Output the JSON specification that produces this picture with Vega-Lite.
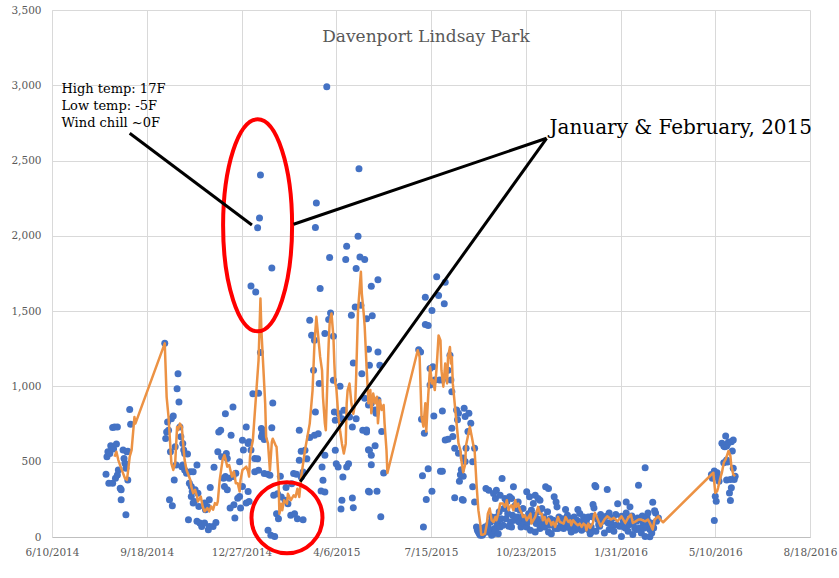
{
"$schema": "https://vega.github.io/schema/vega-lite/v6.json",
"width": 758, "height": 527,
"autosize": {"type": "none"},
"padding": {"left": 52, "top": 10, "right": 29, "bottom": 41},
"background": "#ffffff",
"config": {"view": {"stroke": null}},
"title": {"text": "Davenport Lindsay Park", "font": "DejaVu Serif", "fontSize": 17, "fontWeight": "normal", "color": "#595959", "anchor": "middle", "baseline": "alphabetic", "offset": -54, "dx": -5},
"datasets": {
"points": [
{"date":"2014-08-06","value":416},{"date":"2014-08-07","value":533},{"date":"2014-08-08","value":566},{"date":"2014-08-09","value":357},{"date":"2014-08-10","value":555},{"date":"2014-08-11","value":606},{"date":"2014-08-12","value":592},{"date":"2014-08-13","value":727},{"date":"2014-08-13","value":357},{"date":"2014-08-14","value":584},{"date":"2014-08-15","value":731},{"date":"2014-08-16","value":390},{"date":"2014-08-17","value":617},{"date":"2014-08-18","value":731},{"date":"2014-08-18","value":412},{"date":"2014-08-19","value":445},{"date":"2014-08-21","value":324},{"date":"2014-08-22","value":313},{"date":"2014-08-22","value":247},{"date":"2014-08-24","value":577},{"date":"2014-08-25","value":522},{"date":"2014-08-26","value":489},{"date":"2014-08-27","value":148},{"date":"2014-08-27","value":456},{"date":"2014-08-28","value":566},{"date":"2014-08-29","value":570},{"date":"2014-08-29","value":379},{"date":"2014-08-31","value":846},{"date":"2014-09-01","value":749},
{"date":"2014-10-07","value":1286},{"date":"2014-10-08","value":654},{"date":"2014-10-09","value":698},{"date":"2014-10-10","value":764},{"date":"2014-10-11","value":709},{"date":"2014-10-12","value":247},{"date":"2014-10-13","value":566},{"date":"2014-10-14","value":786},{"date":"2014-10-15","value":207},{"date":"2014-10-16","value":804},{"date":"2014-10-17","value":379},{"date":"2014-10-18","value":600},{"date":"2014-10-19","value":478},{"date":"2014-10-20","value":985},{"date":"2014-10-21","value":1084},{"date":"2014-10-22","value":896},{"date":"2014-10-23","value":731},{"date":"2014-10-24","value":665},{"date":"2014-10-25","value":467},{"date":"2014-10-26","value":621},{"date":"2014-10-26","value":478},{"date":"2014-10-27","value":577},{"date":"2014-10-28","value":555},{"date":"2014-10-28","value":445},{"date":"2014-10-30","value":423},{"date":"2014-10-31","value":551},{"date":"2014-11-01","value":115},{"date":"2014-11-02","value":357},{"date":"2014-11-03","value":434},{"date":"2014-11-04","value":335},{"date":"2014-11-04","value":269},{"date":"2014-11-05","value":302},{"date":"2014-11-06","value":434},{"date":"2014-11-06","value":225},{"date":"2014-11-07","value":236},{"date":"2014-11-08","value":313},{"date":"2014-11-10","value":478},{"date":"2014-11-10","value":104},{"date":"2014-11-11","value":291},{"date":"2014-11-12","value":203},{"date":"2014-11-13","value":93},{"date":"2014-11-15","value":70},{"date":"2014-11-18","value":93},{"date":"2014-11-18","value":225},{"date":"2014-11-19","value":181},{"date":"2014-11-21","value":203},{"date":"2014-11-22","value":48},{"date":"2014-11-23","value":70},{"date":"2014-11-23","value":247},{"date":"2014-11-24","value":328},{"date":"2014-11-27","value":70},{"date":"2014-11-28","value":463},{"date":"2014-11-30","value":97},
{"date":"2014-12-02","value":566},{"date":"2014-12-03","value":698},{"date":"2014-12-05","value":709},{"date":"2014-12-06","value":533},{"date":"2014-12-08","value":390},{"date":"2014-12-09","value":335},{"date":"2014-12-10","value":819},{"date":"2014-12-10","value":401},{"date":"2014-12-11","value":555},{"date":"2014-12-12","value":522},{"date":"2014-12-12","value":313},{"date":"2014-12-14","value":390},{"date":"2014-12-15","value":192},{"date":"2014-12-16","value":676},{"date":"2014-12-18","value":863},{"date":"2014-12-18","value":401},{"date":"2014-12-19","value":214},{"date":"2014-12-20","value":126},{"date":"2014-12-21","value":423},{"date":"2014-12-23","value":258},{"date":"2014-12-25","value":500},{"date":"2014-12-25","value":269},{"date":"2014-12-26","value":192},{"date":"2014-12-28","value":335},{"date":"2014-12-28","value":643},{"date":"2014-12-29","value":577},
{"date":"2015-01-01","value":225},{"date":"2015-01-01","value":731},{"date":"2015-01-03","value":302},{"date":"2015-01-03","value":621},{"date":"2015-01-04","value":236},{"date":"2015-01-04","value":632},{"date":"2015-01-06","value":577},{"date":"2015-01-06","value":1667},{"date":"2015-01-08","value":951},{"date":"2015-01-10","value":522},{"date":"2015-01-10","value":434},{"date":"2015-01-11","value":1627},{"date":"2015-01-13","value":2054},{"date":"2015-01-13","value":520},{"date":"2015-01-14","value":955},{"date":"2015-01-14","value":443},{"date":"2015-01-15","value":2118},{"date":"2015-01-16","value":2404},{"date":"2015-01-16","value":1226},{"date":"2015-01-17","value":665},{"date":"2015-01-17","value":720},{"date":"2015-01-18","value":686},{"date":"2015-01-19","value":709},{"date":"2015-01-20","value":647},{"date":"2015-01-20","value":421},{"date":"2015-01-24","value":416},{"date":"2015-01-24","value":44},{"date":"2015-01-26","value":410},{"date":"2015-01-27","value":11},{"date":"2015-01-28","value":1786},{"date":"2015-01-28","value":726},{"date":"2015-01-29","value":890},{"date":"2015-01-30","value":277},{"date":"2015-01-31","value":4},
{"date":"2015-02-02","value":155},{"date":"2015-02-03","value":288},{"date":"2015-02-04","value":122},{"date":"2015-02-06","value":403},{"date":"2015-02-07","value":266},{"date":"2015-02-11","value":244},{"date":"2015-02-12","value":328},{"date":"2015-02-14","value":221},{"date":"2015-02-17","value":144},{"date":"2015-02-18","value":354},{"date":"2015-02-20","value":421},{"date":"2015-02-21","value":155},{"date":"2015-02-23","value":416},{"date":"2015-02-24","value":122},{"date":"2015-02-26","value":709},{"date":"2015-02-26","value":509},{"date":"2015-02-28","value":569},{"date":"2015-02-28","value":399},
{"date":"2015-03-02","value":432},{"date":"2015-03-02","value":115},{"date":"2015-03-04","value":576},{"date":"2015-03-06","value":520},{"date":"2015-03-09","value":660},{"date":"2015-03-09","value":1440},{"date":"2015-03-11","value":1340},{"date":"2015-03-13","value":1107},{"date":"2015-03-14","value":1306},{"date":"2015-03-14","value":675},{"date":"2015-03-15","value":2055},{"date":"2015-03-15","value":830},{"date":"2015-03-16","value":2219},{"date":"2015-03-18","value":686},{"date":"2015-03-19","value":1019},{"date":"2015-03-20","value":1650},{"date":"2015-03-21","value":306},{"date":"2015-03-22","value":465},{"date":"2015-03-23","value":377},{"date":"2015-03-25","value":1351},{"date":"2015-03-25","value":543},{"date":"2015-03-25","value":299},{"date":"2015-03-27","value":2990},{"date":"2015-03-29","value":1444},{"date":"2015-03-30","value":1856},{"date":"2015-03-31","value":1488},
{"date":"2015-04-03","value":1333},{"date":"2015-04-03","value":1041},{"date":"2015-04-04","value":830},{"date":"2015-04-05","value":775},{"date":"2015-04-05","value":576},{"date":"2015-04-06","value":487},{"date":"2015-04-08","value":465},{"date":"2015-04-09","value":819},{"date":"2015-04-10","value":1001},{"date":"2015-04-11","value":186},{"date":"2015-04-12","value":786},{"date":"2015-04-12","value":244},{"date":"2015-04-13","value":399},{"date":"2015-04-14","value":842},{"date":"2015-04-16","value":1843},{"date":"2015-04-17","value":1931},{"date":"2015-04-17","value":465},{"date":"2015-04-19","value":487},{"date":"2015-04-20","value":797},{"date":"2015-04-22","value":1473},{"date":"2015-04-23","value":731},{"date":"2015-04-23","value":259},{"date":"2015-04-24","value":1156},{"date":"2015-04-24","value":195},{"date":"2015-04-26","value":1528},{"date":"2015-04-27","value":1783},{"date":"2015-04-27","value":786},{"date":"2015-04-29","value":1998},{"date":"2015-04-30","value":2445},
{"date":"2015-05-01","value":1860},{"date":"2015-05-02","value":1539},{"date":"2015-05-03","value":1085},{"date":"2015-05-04","value":709},{"date":"2015-05-06","value":1843},{"date":"2015-05-06","value":921},{"date":"2015-05-08","value":1449},{"date":"2015-05-08","value":698},{"date":"2015-05-08","value":711},{"date":"2015-05-10","value":1247},{"date":"2015-05-10","value":877},{"date":"2015-05-10","value":579},{"date":"2015-05-10","value":304},{"date":"2015-05-11","value":299},{"date":"2015-05-11","value":1141},{"date":"2015-05-11","value":576},{"date":"2015-05-13","value":1665},{"date":"2015-05-13","value":543},{"date":"2015-05-13","value":888},{"date":"2015-05-13","value":480},{"date":"2015-05-14","value":1470},{"date":"2015-05-17","value":844},{"date":"2015-05-17","value":606},{"date":"2015-05-18","value":822},{"date":"2015-05-19","value":304},{"date":"2015-05-20","value":1709},{"date":"2015-05-20","value":1229},{"date":"2015-05-20","value":910},{"date":"2015-05-22","value":1141},{"date":"2015-05-23","value":134},{"date":"2015-05-24","value":700},{"date":"2015-05-26","value":425},
{"date":"2015-07-02","value":1244},{"date":"2015-07-04","value":1229},{"date":"2015-07-05","value":782},{"date":"2015-07-06","value":407},{"date":"2015-07-07","value":66},{"date":"2015-07-08","value":689},{"date":"2015-07-09","value":1593},{"date":"2015-07-09","value":1412},{"date":"2015-07-10","value":249},{"date":"2015-07-12","value":1405},{"date":"2015-07-12","value":454},{"date":"2015-07-14","value":1119},{"date":"2015-07-14","value":1009},{"date":"2015-07-16","value":1504},{"date":"2015-07-16","value":304},{"date":"2015-07-17","value":1130},{"date":"2015-07-18","value":804},{"date":"2015-07-19","value":1042},{"date":"2015-07-21","value":1729},{"date":"2015-07-23","value":1604},{"date":"2015-07-24","value":1042},{"date":"2015-07-25","value":436},{"date":"2015-07-27","value":1042},{"date":"2015-07-27","value":837},{"date":"2015-07-27","value":436},{"date":"2015-07-29","value":1549},{"date":"2015-07-30","value":1692},{"date":"2015-07-30","value":645},
{"date":"2015-08-02","value":1108},{"date":"2015-08-02","value":650},{"date":"2015-08-04","value":1207},{"date":"2015-08-05","value":1042},{"date":"2015-08-06","value":965},{"date":"2015-08-06","value":722},{"date":"2015-08-07","value":667},{"date":"2015-08-09","value":590},{"date":"2015-08-09","value":260},{"date":"2015-08-11","value":844},{"date":"2015-08-12","value":778},{"date":"2015-08-13","value":822},{"date":"2015-08-13","value":557},{"date":"2015-08-14","value":370},{"date":"2015-08-15","value":414},{"date":"2015-08-16","value":447},{"date":"2015-08-17","value":249},{"date":"2015-08-18","value":524},{"date":"2015-08-18","value":403},{"date":"2015-08-18","value":244},{"date":"2015-08-19","value":855},{"date":"2015-08-20","value":800},{"date":"2015-08-20","value":502},{"date":"2015-08-21","value":590},{"date":"2015-08-23","value":700},{"date":"2015-08-24","value":822},{"date":"2015-08-26","value":755},{"date":"2015-08-28","value":500},{"date":"2015-08-28","value":333},{"date":"2015-08-30","value":589},{"date":"2015-08-30","value":233},
{"date":"2015-09-01","value":67},{"date":"2015-09-02","value":44},{"date":"2015-09-03","value":33},{"date":"2015-09-04","value":22},{"date":"2015-09-05","value":11},{"date":"2015-09-06","value":56},{"date":"2015-09-07","value":11},{"date":"2015-09-08","value":22},{"date":"2015-09-09","value":33},{"date":"2015-09-10","value":67},{"date":"2015-09-11","value":322},{"date":"2015-09-12","value":33},{"date":"2015-09-13","value":78},{"date":"2015-09-14","value":311},{"date":"2015-09-15","value":49},{"date":"2015-09-16","value":100},{"date":"2015-09-17","value":11},{"date":"2015-09-17","value":133},{"date":"2015-09-18","value":122},{"date":"2015-09-19","value":22},{"date":"2015-09-19","value":289},{"date":"2015-09-20","value":56},{"date":"2015-09-21","value":44},{"date":"2015-09-21","value":255},{"date":"2015-09-22","value":311},{"date":"2015-09-22","value":133},{"date":"2015-09-23","value":89},{"date":"2015-09-24","value":22},{"date":"2015-09-24","value":111},{"date":"2015-09-25","value":167},{"date":"2015-09-26","value":278},{"date":"2015-09-26","value":67},{"date":"2015-09-27","value":122},{"date":"2015-09-28","value":389},{"date":"2015-09-29","value":78},{"date":"2015-09-30","value":189},
{"date":"2015-10-01","value":255},{"date":"2015-10-02","value":122},{"date":"2015-10-03","value":233},{"date":"2015-10-04","value":156},{"date":"2015-10-05","value":71},{"date":"2015-10-06","value":267},{"date":"2015-10-07","value":100},{"date":"2015-10-08","value":255},{"date":"2015-10-08","value":67},{"date":"2015-10-09","value":144},{"date":"2015-10-10","value":333},{"date":"2015-10-11","value":111},{"date":"2015-10-12","value":211},{"date":"2015-10-13","value":189},{"date":"2015-10-14","value":133},{"date":"2015-10-15","value":233},{"date":"2015-10-16","value":100},{"date":"2015-10-17","value":178},{"date":"2015-10-18","value":67},{"date":"2015-10-19","value":133},{"date":"2015-10-20","value":189},{"date":"2015-10-21","value":89},{"date":"2015-10-22","value":122},{"date":"2015-10-24","value":300},{"date":"2015-10-24","value":67},{"date":"2015-10-25","value":100},{"date":"2015-10-26","value":155},{"date":"2015-10-27","value":267},{"date":"2015-10-28","value":44},{"date":"2015-10-29","value":178},{"date":"2015-10-30","value":111},{"date":"2015-10-31","value":222},
{"date":"2015-11-01","value":144},{"date":"2015-11-02","value":278},{"date":"2015-11-02","value":33},{"date":"2015-11-03","value":89},{"date":"2015-11-04","value":122},{"date":"2015-11-05","value":255},{"date":"2015-11-06","value":167},{"date":"2015-11-07","value":244},{"date":"2015-11-07","value":56},{"date":"2015-11-08","value":100},{"date":"2015-11-09","value":189},{"date":"2015-11-10","value":78},{"date":"2015-11-11","value":133},{"date":"2015-11-12","value":67},{"date":"2015-11-13","value":334},{"date":"2015-11-14","value":100},{"date":"2015-11-15","value":167},{"date":"2015-11-16","value":322},{"date":"2015-11-16","value":33},{"date":"2015-11-17","value":78},{"date":"2015-11-18","value":122},{"date":"2015-11-19","value":22},{"date":"2015-11-20","value":89},{"date":"2015-11-21","value":111},{"date":"2015-11-22","value":267},{"date":"2015-11-23","value":56},{"date":"2015-11-24","value":233},{"date":"2015-11-25","value":200},{"date":"2015-11-26","value":56},{"date":"2015-11-27","value":133},{"date":"2015-11-28","value":111},{"date":"2015-11-29","value":78},{"date":"2015-11-30","value":100},
{"date":"2015-12-01","value":122},{"date":"2015-12-02","value":56},{"date":"2015-12-03","value":100},{"date":"2015-12-04","value":182},{"date":"2015-12-05","value":78},{"date":"2015-12-06","value":144},{"date":"2015-12-07","value":67},{"date":"2015-12-08","value":111},{"date":"2015-12-09","value":56},{"date":"2015-12-10","value":33},{"date":"2015-12-11","value":122},{"date":"2015-12-12","value":78},{"date":"2015-12-13","value":133},{"date":"2015-12-14","value":44},{"date":"2015-12-14","value":89},{"date":"2015-12-15","value":67},{"date":"2015-12-16","value":111},{"date":"2015-12-17","value":182},{"date":"2015-12-18","value":56},{"date":"2015-12-19","value":156},{"date":"2015-12-20","value":100},{"date":"2015-12-21","value":44},{"date":"2015-12-22","value":78},{"date":"2015-12-23","value":133},{"date":"2015-12-24","value":56},{"date":"2015-12-25","value":89},{"date":"2015-12-26","value":111},{"date":"2015-12-27","value":78},{"date":"2015-12-28","value":133},{"date":"2015-12-29","value":44},{"date":"2015-12-30","value":22},{"date":"2015-12-31","value":33},{"date":"2015-12-31","value":67},
{"date":"2016-01-01","value":138},{"date":"2016-01-02","value":216},{"date":"2016-01-02","value":133},{"date":"2016-01-03","value":193},{"date":"2016-01-04","value":342},{"date":"2016-01-05","value":333},{"date":"2016-01-05","value":38},{"date":"2016-01-07","value":116},{"date":"2016-01-08","value":82},{"date":"2016-01-09","value":71},{"date":"2016-01-10","value":149},{"date":"2016-01-12","value":104},{"date":"2016-01-13","value":127},{"date":"2016-01-14","value":27},{"date":"2016-01-16","value":138},{"date":"2016-01-17","value":316},{"date":"2016-01-18","value":93},{"date":"2016-01-19","value":160},{"date":"2016-01-19","value":49},{"date":"2016-01-21","value":93},{"date":"2016-01-22","value":60},{"date":"2016-01-23","value":127},{"date":"2016-01-24","value":38},{"date":"2016-01-26","value":149},{"date":"2016-01-27","value":82},{"date":"2016-01-28","value":220},{"date":"2016-01-30","value":71},
{"date":"2016-02-01","value":138},{"date":"2016-02-01","value":4},{"date":"2016-02-02","value":71},{"date":"2016-02-03","value":104},{"date":"2016-02-04","value":127},{"date":"2016-02-05","value":60},{"date":"2016-02-06","value":233},{"date":"2016-02-06","value":160},{"date":"2016-02-08","value":38},{"date":"2016-02-09","value":82},{"date":"2016-02-10","value":200},{"date":"2016-02-10","value":116},{"date":"2016-02-12","value":140},{"date":"2016-02-13","value":93},{"date":"2016-02-13","value":16},{"date":"2016-02-15","value":60},{"date":"2016-02-17","value":104},{"date":"2016-02-17","value":49},{"date":"2016-02-18","value":127},{"date":"2016-02-19","value":344},{"date":"2016-02-20","value":116},{"date":"2016-02-20","value":60},{"date":"2016-02-22","value":27},{"date":"2016-02-23","value":140},{"date":"2016-02-24","value":93},{"date":"2016-02-25","value":60},{"date":"2016-02-26","value":460},{"date":"2016-02-26","value":4},{"date":"2016-02-27","value":71},{"date":"2016-02-28","value":127},{"date":"2016-02-29","value":160},{"date":"2016-02-29","value":104},
{"date":"2016-03-02","value":49},{"date":"2016-03-02","value":2},{"date":"2016-03-03","value":93},{"date":"2016-03-04","value":27},{"date":"2016-03-05","value":231},{"date":"2016-03-05","value":71},{"date":"2016-03-06","value":60},{"date":"2016-03-07","value":175},{"date":"2016-03-08","value":160},{"date":"2016-03-09","value":104},{"date":"2016-03-11","value":127},
{"date":"2016-05-06","value":415},{"date":"2016-05-07","value":390},{"date":"2016-05-09","value":438},{"date":"2016-05-09","value":109},{"date":"2016-05-10","value":271},{"date":"2016-05-11","value":238},{"date":"2016-05-12","value":427},{"date":"2016-05-13","value":393},{"date":"2016-05-14","value":371},{"date":"2016-05-17","value":622},{"date":"2016-05-19","value":604},{"date":"2016-05-19","value":493},{"date":"2016-05-20","value":600},{"date":"2016-05-21","value":671},{"date":"2016-05-22","value":604},{"date":"2016-05-22","value":511},{"date":"2016-05-22","value":378},{"date":"2016-05-23","value":618},{"date":"2016-05-23","value":498},{"date":"2016-05-24","value":631},{"date":"2016-05-25","value":293},{"date":"2016-05-26","value":382},{"date":"2016-05-26","value":242},{"date":"2016-05-27","value":633},{"date":"2016-05-27","value":327},{"date":"2016-05-28","value":571},{"date":"2016-05-29","value":644},{"date":"2016-05-29","value":456},{"date":"2016-05-30","value":382},{"date":"2016-05-31","value":404}
],
"average": [
{"date":"2014-08-15","value":533},{"date":"2014-08-17","value":566},{"date":"2014-08-19","value":511},{"date":"2014-08-22","value":456},{"date":"2014-08-26","value":390},{"date":"2014-08-28","value":379},{"date":"2014-08-29","value":423},{"date":"2014-08-31","value":533},{"date":"2014-09-02","value":577},{"date":"2014-09-05","value":797},{"date":"2014-09-06","value":753},{"date":"2014-10-07","value":1286},{"date":"2014-10-09","value":929},{"date":"2014-10-11","value":797},{"date":"2014-10-14","value":489},{"date":"2014-10-16","value":445},{"date":"2014-10-18","value":489},{"date":"2014-10-20","value":731},{"date":"2014-10-21","value":709},{"date":"2014-10-23","value":753},{"date":"2014-10-25","value":731},{"date":"2014-10-27","value":577},{"date":"2014-10-28","value":511},{"date":"2014-10-30","value":445},{"date":"2014-11-03","value":379},{"date":"2014-11-04","value":335},{"date":"2014-11-06","value":291},{"date":"2014-11-08","value":313},{"date":"2014-11-10","value":269},{"date":"2014-11-11","value":236},{"date":"2014-11-14","value":269},{"date":"2014-11-16","value":203},{"date":"2014-11-18","value":170},{"date":"2014-11-21","value":192},{"date":"2014-11-23","value":170},{"date":"2014-11-25","value":203},{"date":"2014-11-27","value":181},{"date":"2014-11-29","value":225},{"date":"2014-12-01","value":214},{"date":"2014-12-02","value":236},{"date":"2014-12-04","value":379},{"date":"2014-12-07","value":511},{"date":"2014-12-09","value":544},{"date":"2014-12-10","value":522},{"date":"2014-12-12","value":467},{"date":"2014-12-14","value":478},{"date":"2014-12-16","value":423},{"date":"2014-12-17","value":401},{"date":"2014-12-19","value":434},{"date":"2014-12-21","value":357},{"date":"2014-12-23","value":357},{"date":"2014-12-25","value":302},{"date":"2014-12-26","value":379},{"date":"2014-12-28","value":445},{"date":"2014-12-30","value":456},{"date":"2015-01-01","value":467},{"date":"2015-01-03","value":434},{"date":"2015-01-04","value":401},{"date":"2015-01-05","value":533},{"date":"2015-01-06","value":577},{"date":"2015-01-08","value":643},{"date":"2015-01-12","value":997},{"date":"2015-01-14","value":1174},{"date":"2015-01-16","value":1584},{"date":"2015-01-17","value":1373},{"date":"2015-01-19","value":1130},{"date":"2015-01-21","value":886},{"date":"2015-01-22","value":664},{"date":"2015-01-24","value":620},{"date":"2015-01-26","value":443},{"date":"2015-01-28","value":631},{"date":"2015-01-29","value":653},{"date":"2015-02-01","value":609},{"date":"2015-02-02","value":598},{"date":"2015-02-04","value":399},{"date":"2015-02-05","value":155},{"date":"2015-02-07","value":221},{"date":"2015-02-08","value":177},{"date":"2015-02-10","value":244},{"date":"2015-02-13","value":221},{"date":"2015-02-14","value":288},{"date":"2015-02-17","value":244},{"date":"2015-02-20","value":277},{"date":"2015-02-22","value":266},{"date":"2015-02-24","value":321},{"date":"2015-02-26","value":266},{"date":"2015-02-28","value":399},{"date":"2015-03-04","value":576},{"date":"2015-03-09","value":753},{"date":"2015-03-12","value":974},{"date":"2015-03-14","value":1285},{"date":"2015-03-16","value":1462},{"date":"2015-03-18","value":1329},{"date":"2015-03-20","value":1196},{"date":"2015-03-22","value":1107},{"date":"2015-03-23","value":930},{"date":"2015-03-25","value":753},{"date":"2015-03-26","value":709},{"date":"2015-03-28","value":1107},{"date":"2015-03-29","value":1285},{"date":"2015-03-30","value":1417},{"date":"2015-04-01","value":1484},{"date":"2015-04-03","value":1329},{"date":"2015-04-04","value":1152},{"date":"2015-04-05","value":1019},{"date":"2015-04-06","value":997},{"date":"2015-04-08","value":819},{"date":"2015-04-10","value":709},{"date":"2015-04-12","value":620},{"date":"2015-04-14","value":554},{"date":"2015-04-16","value":620},{"date":"2015-04-17","value":886},{"date":"2015-04-18","value":974},{"date":"2015-04-20","value":1019},{"date":"2015-04-22","value":886},{"date":"2015-04-24","value":819},{"date":"2015-04-26","value":886},{"date":"2015-04-27","value":1063},{"date":"2015-04-29","value":1506},{"date":"2015-05-02","value":1761},{"date":"2015-05-03","value":1617},{"date":"2015-05-05","value":1484},{"date":"2015-05-06","value":1400},{"date":"2015-05-08","value":1130},{"date":"2015-05-10","value":888},{"date":"2015-05-12","value":976},{"date":"2015-05-13","value":822},{"date":"2015-05-15","value":953},{"date":"2015-05-17","value":888},{"date":"2015-05-19","value":932},{"date":"2015-05-20","value":755},{"date":"2015-05-22","value":910},{"date":"2015-05-24","value":844},{"date":"2015-05-26","value":877},{"date":"2015-05-27","value":755},{"date":"2015-05-29","value":579},{"date":"2015-05-30","value":425},{"date":"2015-07-01","value":1240},{"date":"2015-07-03","value":1196},{"date":"2015-07-05","value":800},{"date":"2015-07-07","value":733},{"date":"2015-07-09","value":888},{"date":"2015-07-10","value":700},{"date":"2015-07-12","value":932},{"date":"2015-07-14","value":1130},{"date":"2015-07-16","value":1020},{"date":"2015-07-17","value":1042},{"date":"2015-07-19","value":976},{"date":"2015-07-21","value":1130},{"date":"2015-07-23","value":1339},{"date":"2015-07-25","value":1306},{"date":"2015-07-26","value":1108},{"date":"2015-07-28","value":998},{"date":"2015-07-30","value":1152},{"date":"2015-08-01","value":1020},{"date":"2015-08-02","value":1196},{"date":"2015-08-04","value":1262},{"date":"2015-08-05","value":1152},{"date":"2015-08-06","value":1196},{"date":"2015-08-07","value":1020},{"date":"2015-08-09","value":888},{"date":"2015-08-11","value":755},{"date":"2015-08-13","value":623},{"date":"2015-08-15","value":578},{"date":"2015-08-16","value":513},{"date":"2015-08-18","value":430},{"date":"2015-08-20","value":480},{"date":"2015-08-21","value":610},{"date":"2015-08-25","value":733},{"date":"2015-08-27","value":667},{"date":"2015-08-29","value":600},{"date":"2015-08-30","value":578},{"date":"2015-09-01","value":355},{"date":"2015-09-03","value":178},{"date":"2015-09-05","value":89},{"date":"2015-09-06","value":15},{"date":"2015-09-08","value":15},{"date":"2015-09-10","value":22},{"date":"2015-09-12","value":89},{"date":"2015-09-13","value":155},{"date":"2015-09-15","value":189},{"date":"2015-09-17","value":111},{"date":"2015-09-19","value":100},{"date":"2015-09-21","value":133},{"date":"2015-09-22","value":111},{"date":"2015-09-24","value":155},{"date":"2015-09-26","value":222},{"date":"2015-09-29","value":222},{"date":"2015-10-01","value":200},{"date":"2015-10-03","value":244},{"date":"2015-10-05","value":178},{"date":"2015-10-06","value":200},{"date":"2015-10-08","value":211},{"date":"2015-10-10","value":178},{"date":"2015-10-12","value":244},{"date":"2015-10-13","value":200},{"date":"2015-10-15","value":222},{"date":"2015-10-17","value":178},{"date":"2015-10-19","value":155},{"date":"2015-10-20","value":133},{"date":"2015-10-22","value":144},{"date":"2015-10-24","value":111},{"date":"2015-10-26","value":133},{"date":"2015-10-28","value":155},{"date":"2015-10-29","value":89},{"date":"2015-11-02","value":133},{"date":"2015-11-03","value":155},{"date":"2015-11-05","value":200},{"date":"2015-11-07","value":155},{"date":"2015-11-09","value":155},{"date":"2015-11-10","value":111},{"date":"2015-11-12","value":133},{"date":"2015-11-14","value":89},{"date":"2015-11-16","value":122},{"date":"2015-11-18","value":100},{"date":"2015-11-19","value":78},{"date":"2015-11-21","value":100},{"date":"2015-11-23","value":67},{"date":"2015-11-25","value":111},{"date":"2015-11-26","value":133},{"date":"2015-11-28","value":100},{"date":"2015-12-02","value":89},{"date":"2015-12-04","value":133},{"date":"2015-12-07","value":100},{"date":"2015-12-09","value":111},{"date":"2015-12-10","value":78},{"date":"2015-12-12","value":111},{"date":"2015-12-15","value":89},{"date":"2015-12-17","value":78},{"date":"2015-12-19","value":89},{"date":"2015-12-21","value":67},{"date":"2015-12-23","value":89},{"date":"2015-12-25","value":78},{"date":"2015-12-26","value":44},{"date":"2015-12-28","value":89},{"date":"2015-12-30","value":60},{"date":"2016-01-02","value":95},{"date":"2016-01-03","value":144},{"date":"2016-01-04","value":160},{"date":"2016-01-07","value":116},{"date":"2016-01-10","value":71},{"date":"2016-01-14","value":116},{"date":"2016-01-17","value":138},{"date":"2016-01-21","value":116},{"date":"2016-01-24","value":127},{"date":"2016-01-28","value":104},{"date":"2016-02-01","value":138},{"date":"2016-02-05","value":93},{"date":"2016-02-08","value":127},{"date":"2016-02-11","value":149},{"date":"2016-02-13","value":93},{"date":"2016-02-16","value":104},{"date":"2016-02-19","value":116},{"date":"2016-02-22","value":116},{"date":"2016-02-26","value":104},{"date":"2016-02-29","value":116},{"date":"2016-03-02","value":93},{"date":"2016-03-05","value":49},{"date":"2016-03-07","value":116},{"date":"2016-03-11","value":138},{"date":"2016-03-13","value":116},{"date":"2016-03-16","value":98},{"date":"2016-05-06","value":415},{"date":"2016-05-08","value":427},{"date":"2016-05-10","value":293},{"date":"2016-05-12","value":304},{"date":"2016-05-13","value":327},{"date":"2016-05-15","value":382},{"date":"2016-05-17","value":427},{"date":"2016-05-19","value":493},{"date":"2016-05-21","value":516},{"date":"2016-05-24","value":571},{"date":"2016-05-26","value":538},{"date":"2016-05-27","value":471},{"date":"2016-05-29","value":415},{"date":"2016-05-31","value":404}
],
"pointers": [
{"seg":"A","date":"2014-08-31","value":2681},{"seg":"A","date":"2015-01-07","value":2072},
{"seg":"B","date":"2015-02-20","value":2077},{"seg":"B","date":"2015-11-14","value":2648},
{"seg":"C","date":"2015-02-27","value":367},{"seg":"C","date":"2015-11-14","value":2648}
]
},
"encoding": {
"x": {"field": "date", "type": "temporal",
 "scale": {"type": "utc", "nice": false, "domain": [{"year": 2014, "month": 6, "date": 10, "utc": true}, {"year": 2016, "month": 8, "date": 18, "utc": true}]},
 "axis": {"title": null, "format": "%-m/%-d/%Y",
  "values": [{"year": 2014, "month": 6, "date": 10, "utc": true}, {"year": 2014, "month": 9, "date": 18, "utc": true}, {"year": 2014, "month": 12, "date": 27, "utc": true}, {"year": 2015, "month": 4, "date": 6, "utc": true}, {"year": 2015, "month": 7, "date": 15, "utc": true}, {"year": 2015, "month": 10, "date": 23, "utc": true}, {"year": 2016, "month": 1, "date": 31, "utc": true}, {"year": 2016, "month": 5, "date": 10, "utc": true}, {"year": 2016, "month": 8, "date": 18, "utc": true}],
  "grid": true, "gridColor": "#d9d9d9", "gridWidth": 1, "domainColor": "#bfbfbf", "domainWidth": 1, "ticks": false, "tickSize": 0,
  "labelFont": "DejaVu Serif", "labelFontSize": 10.5, "labelColor": "#595959", "labelPadding": 10, "labelOverlap": false, "labelFlush": false}},
"y": {"field": "value", "type": "quantitative",
 "scale": {"domain": [0, 3500], "nice": false},
 "axis": {"title": null, "values": [0, 500, 1000, 1500, 2000, 2500, 3000, 3500], "format": ",d",
  "grid": true, "gridColor": "#d9d9d9", "gridWidth": 1, "domainColor": "#d9d9d9", "ticks": false, "tickSize": 0,
  "labelFont": "DejaVu Serif", "labelFontSize": 10.5, "labelColor": "#595959", "labelPadding": 11}}
},
"layer": [
{"data": {"name": "points"}, "mark": {"type": "point", "shape": "circle", "filled": true, "size": 49, "color": "#4472C4", "opacity": 1, "strokeWidth": 0}, "encoding": {}},
{"data": {"name": "average"}, "mark": {"type": "line", "color": "#EC9244", "strokeWidth": 2.5, "strokeJoin": "round"}, "encoding": {}},
{"data": {"values": [{"date": "2015-01-13", "value": 2070}]}, "mark": {"type": "point", "shape": "M0,-1C0.1798,-1,0.3255,-0.5523,0.3255,0C0.3255,0.5523,0.1798,1,0,1C-0.1798,1,-0.3255,0.5523,-0.3255,0C-0.3255,-0.5523,-0.1798,-1,0,-1Z", "size": 44944, "filled": false, "color": "#FF0000", "strokeWidth": 4, "opacity": 1}, "encoding": {}},
{"data": {"values": [{"date": "2015-02-13", "value": 128}]}, "mark": {"type": "point", "shape": "circle", "size": 5041, "filled": false, "color": "#FF0000", "strokeWidth": 4, "opacity": 1}, "encoding": {}},
{"data": {"name": "pointers"}, "mark": {"type": "line", "color": "#000000", "strokeWidth": 3}, "encoding": {"detail": {"field": "seg"}}},
{"data": {"values": [{"date": "2014-06-20", "value": 2949, "label": "High temp: 17F\nLow temp: -5F\nWind chill ~0F"}]}, "mark": {"type": "text", "align": "left", "baseline": "alphabetic", "font": "DejaVu Serif", "fontSize": 13, "lineBreak": "\n", "lineHeight": 17, "color": "#000000"}, "encoding": {"text": {"field": "label"}}},
{"data": {"values": [{"date": "2015-11-17", "value": 2676, "label": "January & February, 2015"}]}, "mark": {"type": "text", "align": "left", "baseline": "alphabetic", "font": "DejaVu Serif", "fontSize": 20, "color": "#000000"}, "encoding": {"text": {"field": "label"}}}
]
}
